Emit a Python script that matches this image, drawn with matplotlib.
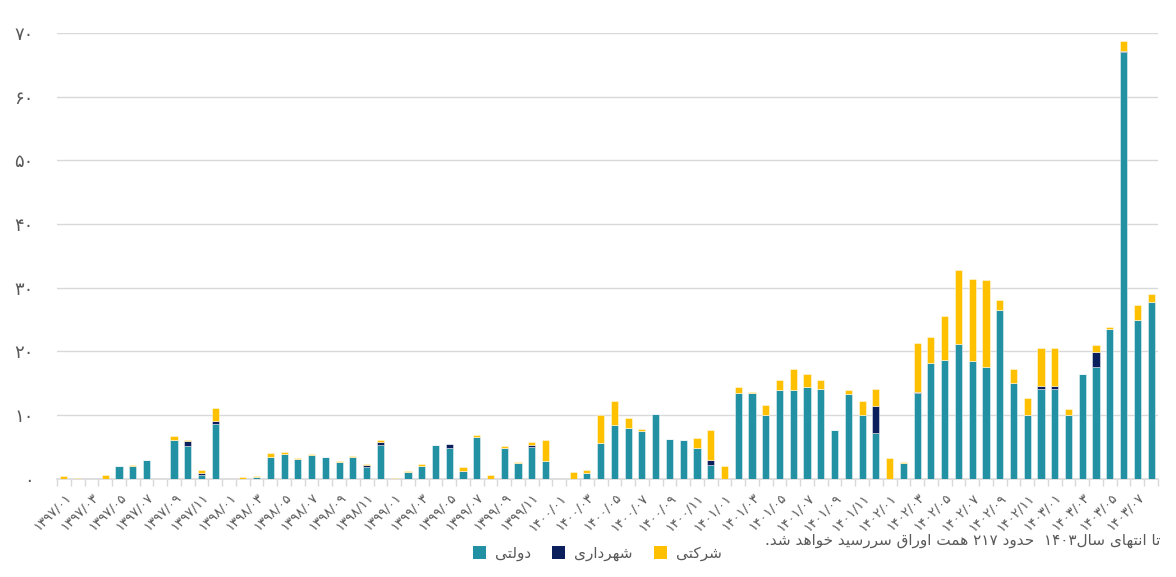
import matplotlib
matplotlib.use("Agg")
import matplotlib.pyplot as plt
from matplotlib.patches import Patch
import numpy as np

# ---------------- data (هزار میلیارد تومان / همت) ----------------
years = [1397, 1398, 1399, 1400, 1401, 1402, 1403]
n_months = 80  # 1397/01 .. 1403/08

dolati = [0, 0, 0, 0, 1.9, 1.9, 2.9, 0, 6.1, 5.1,
          0.5, 8.5, 0, 0, 0.25, 3.35, 3.9, 3.0, 3.65, 3.4,
          2.65, 3.3, 1.75, 5.3, 0, 0.95, 1.9, 5.2, 4.8, 1.25,
          6.45, 0, 4.85, 2.45, 4.95, 2.75, 0, 0, 0.85, 5.5,
          8.35, 8.0, 7.45, 10.2, 6.25, 6.0, 4.75, 2.1, 0, 13.5,
          13.5, 9.95, 13.95, 13.95, 14.45, 14.1, 7.6, 13.35, 9.95, 7.2,
          0, 2.45, 13.4, 18.2, 18.65, 21.2, 18.4, 17.45, 26.5, 14.95,
          9.95, 14.0, 14.0, 9.95, 16.45, 17.55, 23.45, 67.05, 24.95, 27.7]

shahrdari = [0, 0, 0, 0, 0, 0, 0, 0, 0, 0.8,
             0.35, 0.6, 0, 0, 0, 0, 0, 0, 0, 0,
             0, 0, 0.4, 0.45, 0, 0, 0, 0, 0.55, 0,
             0, 0, 0, 0, 0.35, 0, 0, 0, 0, 0,
             0, 0, 0, 0, 0, 0, 0, 0.85, 0, 0,
             0, 0, 0, 0, 0, 0, 0, 0, 0, 4.15,
             0, 0, 0.2, 0, 0, 0, 0, 0, 0, 0,
             0, 0.6, 0.6, 0, 0, 2.4, 0, 0.2, 0, 0]

sherkati = [0.45, 0.1, 0, 0.5, 0.1, 0.25, 0, 0, 0.6, 0.15,
            0.45, 2.0, 0, 0.2, 0.1, 0.6, 0.3, 0.2, 0.25, 0,
            0.15, 0.3, 0.15, 0.25, 0.05, 0.3, 0.3, 0.1, 0.1, 0.5,
            0.35, 0.5, 0.2, 0.2, 0.45, 3.35, 0, 0.95, 0.5, 4.45,
            3.75, 1.5, 0.25, 0, 0, 0.1, 1.55, 4.6, 1.95, 0.95,
            0.15, 1.65, 1.6, 3.25, 2.0, 1.35, 0, 0.6, 2.2, 2.75,
            3.25, 0.2, 7.7, 4.05, 6.9, 11.5, 12.9, 13.8, 1.55, 2.3,
            2.75, 5.95, 5.95, 1.0, 0, 1.05, 0.3, 1.45, 2.3, 1.35]

series_names = ["دولتی", "شهرداری", "شرکتی"]
series_colors = ["#2191A3", "#0B1F5C", "#FFC000"]
yticks = [0, 10, 20, 30, 40, 50, 60, 70]
note = "تا انتهای سال۱۴۰۳  حدود ۲۱۷ همت اوراق سررسید خواهد شد."

# ---------------- helpers ----------------
FA = str.maketrans("0123456789", "۰۱۲۳۴۵۶۷۸۹")
categories = [f"{y}/{m:02d}".translate(FA) for y in years for m in range(1, 13)][:n_months]

FORMS = {  # isolated, final, initial, medial
    "ا": ("\uFE8D", "\uFE8E", None, None),
    "د": ("\uFEA9", "\uFEAA", None, None),
    "ر": ("\uFEAD", "\uFEAE", None, None),
    "و": ("\uFEED", "\uFEEE", None, None),
    "ت": ("\uFE95", "\uFE96", "\uFE97", "\uFE98"),
    "ح": ("\uFEA1", "\uFEA2", "\uFEA3", "\uFEA4"),
    "خ": ("\uFEA5", "\uFEA6", "\uFEA7", "\uFEA8"),
    "س": ("\uFEB1", "\uFEB2", "\uFEB3", "\uFEB4"),
    "ش": ("\uFEB5", "\uFEB6", "\uFEB7", "\uFEB8"),
    "ق": ("\uFED5", "\uFED6", "\uFED7", "\uFED8"),
    "ل": ("\uFEDD", "\uFEDE", "\uFEDF", "\uFEE0"),
    "م": ("\uFEE1", "\uFEE2", "\uFEE3", "\uFEE4"),
    "ن": ("\uFEE5", "\uFEE6", "\uFEE7", "\uFEE8"),
    "ه": ("\uFEE9", "\uFEEA", "\uFEEB", "\uFEEC"),
    "ی": ("\uFBFC", "\uFBFD", "\uFBFE", "\uFBFF"),
    "ک": ("\uFB8E", "\uFB8F", "\uFB90", "\uFB91"),
}
DIGITS = "۰۱۲۳۴۵۶۷۸۹0123456789"


def dual(c):
    return c in FORMS and FORMS[c][2] is not None


def shape_fa(s):
    out = []
    for i, c in enumerate(s):
        if c not in FORMS:
            out.append(c)
            continue
        prev = s[i - 1] if i > 0 else ""
        nxt = s[i + 1] if i + 1 < len(s) else ""
        jp = dual(prev)
        jn = dual(c) and nxt in FORMS
        iso, fin, ini, med = FORMS[c]
        if jp and jn:
            out.append(med)
        elif jp:
            out.append(fin)
        elif jn:
            out.append(ini)
        else:
            out.append(iso)
    tokens = []
    for ch in out:
        if ch in DIGITS and tokens and tokens[-1][-1] in DIGITS:
            tokens[-1] += ch
        else:
            tokens.append(ch)
    return "".join(reversed(tokens))


# ---------------- plot ----------------
plt.rcParams["font.family"] = ["DejaVu Sans"]
fig = plt.figure(figsize=(11.76, 5.77), dpi=100)
ax = fig.add_axes([57 / 1176, 1 - 478.5 / 577, (1158 - 57) / 1176, (478.5 - 33) / 577])

x = np.arange(n_months)
d = np.array(dolati)
s = np.array(shahrdari)
k = np.array(sherkati)
w = 0.52
edge = (1, 1, 1, 0.45)
ax.bar(x, d, w, color=series_colors[0], edgecolor=edge, linewidth=0.7, zorder=3)
ax.bar(x, s, w, bottom=d, color=series_colors[1], edgecolor=edge, linewidth=0.7, zorder=3)
ax.bar(x, k, w, bottom=d + s, color=series_colors[2], edgecolor=edge, linewidth=0.7, zorder=3)

ax.set_xlim(-0.5, n_months - 0.5)
ax.set_ylim(0, 70)
ax.set_yticks(yticks)
ax.set_yticklabels([str(v).translate(FA) for v in yticks], fontsize=13, color="#595959")
ax.tick_params(axis="y", length=0, pad=17)
ax.yaxis.grid(True, color="#D9D9D9", linewidth=1, zorder=0)
ax.set_axisbelow(True)

for sp in ["top", "right", "left"]:
    ax.spines[sp].set_visible(False)
ax.spines["bottom"].set_color("#D9D9D9")
ax.spines["bottom"].set_linewidth(1.2)

ax.set_xticks(np.arange(-0.5, n_months, 1), minor=True)
ax.tick_params(axis="x", which="minor", length=5, color="#D9D9D9", width=1)
ax.set_xticks(x[::2])
ax.set_xticklabels(categories[::2], rotation=45, ha="right", va="top",
                   rotation_mode="anchor", fontsize=9.5, color="#595959")
ax.tick_params(axis="x", which="major", length=0, pad=9)

handles = [Patch(facecolor=c) for c in series_colors]
fig.legend(handles, [shape_fa(n) for n in series_names], loc="center",
           bbox_to_anchor=(0.508, 0.041), ncol=3, frameon=False, fontsize=11,
           handlelength=0.85, handleheight=0.85, handletextpad=0.6, columnspacing=1.4,
           labelcolor="#595959")

fig.text(1160 / 1176, 1 - 540 / 577, shape_fa(note), ha="right", va="center",
         fontsize=11, color="#595959")

fig.savefig("out.png", dpi=100, facecolor="white")
